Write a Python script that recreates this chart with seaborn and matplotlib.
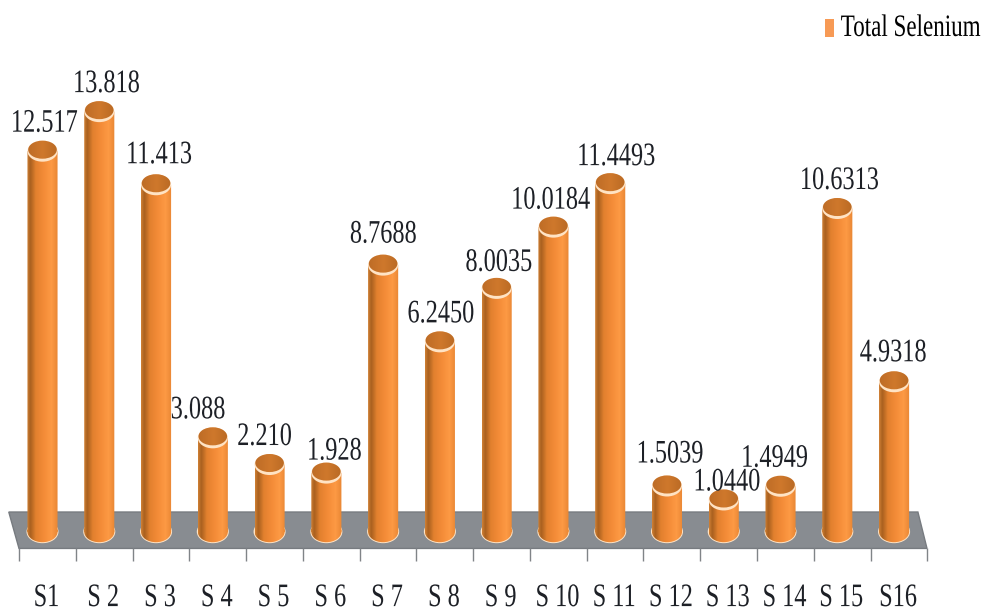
import numpy as np
import pandas as pd
import matplotlib
matplotlib.use('Agg')
import matplotlib.pyplot as plt
import matplotlib.patheffects as pe
import seaborn as sns
from matplotlib.colors import LinearSegmentedColormap
from matplotlib.patches import Ellipse, Polygon
from matplotlib.path import Path
from matplotlib.transforms import Affine2D

samples = ['S1', 'S2', 'S3', 'S4', 'S5', 'S6', 'S7', 'S8',
           'S9', 'S10', 'S11', 'S12', 'S13', 'S14', 'S15', 'S16']
tick_names = ['S1', 'S 2', 'S 3', 'S 4', 'S 5', 'S 6', 'S 7', 'S 8',
              'S 9', 'S 10', 'S 11', 'S 12', 'S 13', 'S 14', 'S 15', 'S16']
selenium = [12.517, 13.818, 11.413, 3.088, 2.210, 1.928, 8.7688, 6.2450,
            8.0035, 10.0184, 11.4493, 1.5039, 1.0440, 1.4949, 10.6313, 4.9318]
value_labels = ['12.517', '13.818', '11.413', '3.088', '2.210', '1.928', '8.7688', '6.2450',
                '8.0035', '10.0184', '11.4493', '1.5039', '1.0440', '1.4949', '10.6313', '4.9318']

# how far each value label sits from its bar, in pixels
label_dx = [2, 7, 3, -15, -5, 8, 0, 1, 2, -3, 6, 3, 3, -6, 2, -1]
label_dy = [25, 25, 27, 25, 25, 19, 28, 25, 23, 24, 24, 29, 15, 25, 25, 26]


class TallText(pe.AbstractPathEffect):
    # the text in the reference is stretched upward, glyphs are narrow and high
    def draw_path(self, renderer, gc, tpath, affine, rgbFace=None):
        renderer.draw_path(gc, tpath, Affine2D().scale(1, 1.35) + affine, rgbFace)


plt.rcParams['font.family'] = ['Liberation Serif', 'DejaVu Serif']

df = pd.DataFrame({'sample': samples, 'selenium': selenium})

fig = plt.figure(figsize=(9.87, 6.13), dpi=100)
ax = fig.add_axes([0, 0, 1, 1])
sns.barplot(data=df, x='sample', y='selenium', width=0.53, color='#f08a35',
            label='Total Selenium', legend=False, ax=ax, zorder=3)

# pixel scale of the reference: one category is 56.77 px, one unit is 30.4 px
ax.set_xlim(-0.7486, 16.637)
ax.set_ylim(-2.674, 17.49)
xunit = 1 / 56.77
yunit = 1 / 30.4

# grey floor the columns stand on
floor = Polygon([(-0.594, 0.648), (15.42, 0.648), (15.58, -0.55), (-0.414, -0.55)],
                closed=True, fc='#888c91', ec='#777b80', lw=1, zorder=1)
ax.add_patch(floor)

# cylinder shading, left to right
body_cmap = LinearSegmentedColormap.from_list('body', [
    (0.0, '#d08034'), (0.1, '#a8601f'), (0.28, '#e2802e'), (0.55, '#f48c38'),
    (0.8, '#fd9a44'), (1.0, '#e88634')])
cap_cmap = LinearSegmentedColormap.from_list('cap', ['#bd6c26', '#cf782c', '#b96a24'])
shade = np.linspace(0, 1, 64).reshape(1, -1)

ell_h = 21 * yunit
for bar, val in zip(ax.patches, selenium):
    x0 = bar.get_x()
    w = bar.get_width()
    xc = x0 + w / 2
    bar.set_visible(False)

    foot = Ellipse((xc, 0), w, ell_h)
    foot_path = foot.get_patch_transform().transform_path(foot.get_path())
    rect = Path([(x0, 0), (x0 + w, 0), (x0 + w, val), (x0, val), (x0, 0)], closed=True)
    body_path = Path.make_compound_path(rect, foot_path)

    im = ax.imshow(shade, cmap=body_cmap, aspect='auto', zorder=3,
                   extent=(x0, x0 + w, -ell_h, val), interpolation='bilinear')
    im.set_clip_path(body_path, transform=ax.transData)

    # pale rim at the foot and the lid on top
    ax.add_patch(Ellipse((xc, 0), w, ell_h, fc='none', ec='#ffe3c4', lw=1.4, zorder=2.9))
    ax.add_patch(Ellipse((xc, val), w, ell_h, fc='#ffe3c4', ec='none', zorder=4))
    lid = Ellipse((xc, val + 1.5 * yunit), w * 0.95, ell_h * 0.86, fc='none', ec='none', zorder=5)
    ax.add_patch(lid)
    cap = ax.imshow(shade, cmap=cap_cmap, aspect='auto', zorder=5,
                    extent=(x0, x0 + w, val - ell_h, val + ell_h), interpolation='bilinear')
    cap.set_clip_path(lid)

for i, val in enumerate(selenium):
    ax.annotate(value_labels[i], xy=(i, val), xytext=(label_dx[i], label_dy[i]),
                textcoords='offset pixels', ha='center', va='center',
                fontsize=17.5, color='#1d2026', zorder=6, path_effects=[TallText()])

ax.set_xlim(-0.7486, 16.637)
ax.set_ylim(-2.674, 17.49)

# the axis line is hidden under the floor edge, ticks fall between the bars
sns.despine(ax=ax, left=True, right=True, top=True, bottom=True)
ax.spines['bottom'].set_position(('data', -0.55))
ax.set_yticks([])
ax.set_ylabel('')
ax.set_xlabel('')
ax.set_xticks(np.arange(17) - 0.414, labels=[''] * 17)
ax.set_xticks(np.arange(16) + 0.07, labels=tick_names, minor=True)
ax.tick_params(axis='x', which='major', length=9.4, width=1, color='#808488')
ax.tick_params(axis='x', which='minor', length=0, pad=30, labelsize=17.5, labelcolor='#1d2026')
for lab in ax.get_xticklabels(minor=True):
    lab.set_path_effects([TallText()])

handles, names = ax.get_legend_handles_labels()
leg = ax.legend(handles[:1], names[:1], loc='center right', bbox_to_anchor=(0.993, 0.951),
                frameon=False, fontsize=16.6, handlelength=0.4, handleheight=0.8, handletextpad=0.3,
                borderpad=0, borderaxespad=0)
for h in leg.legend_handles:
    h.set_visible(True)
    h.set_facecolor('#f79a55')
    h.set_edgecolor('none')
for t in leg.get_texts():
    t.set_path_effects([TallText()])

fig.savefig('out.png', dpi=100, facecolor='white')
